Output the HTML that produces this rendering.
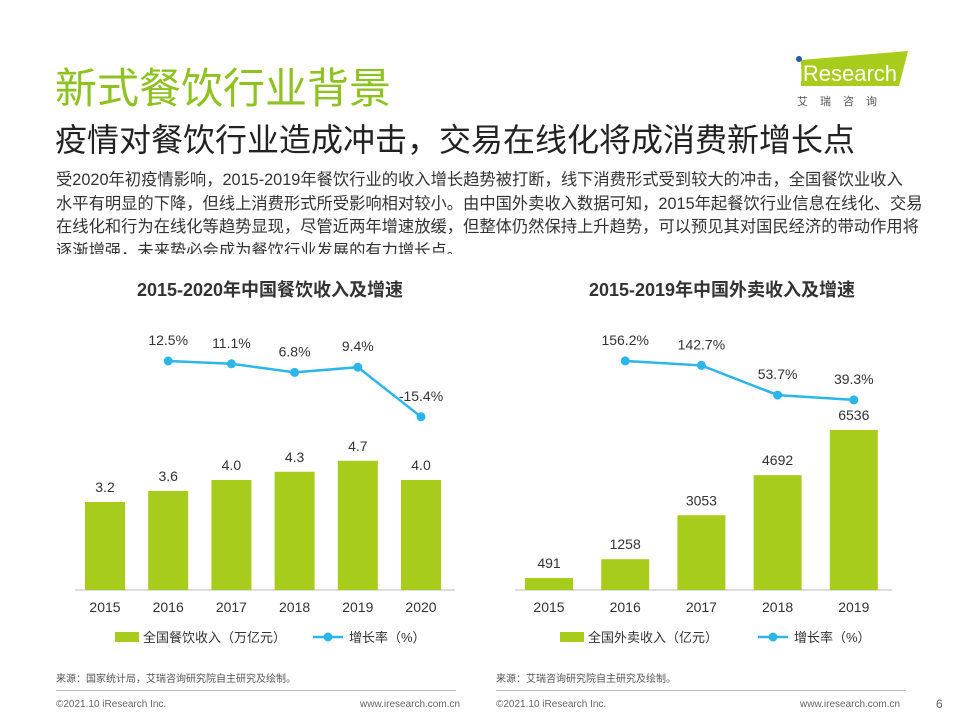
<!DOCTYPE html>
<html><head><meta charset="utf-8"><style>
body{margin:0;width:960px;height:720px;background:#fff;overflow:hidden;position:relative;font-family:"Liberation Sans","Noto Sans CJK SC",sans-serif;color:#333}
.abs{position:absolute}
</style></head><body>
<div class="abs" style="left:55px;top:55px;font-size:42px;color:#8dc21f;white-space:nowrap">新式餐饮行业背景</div>
<div class="abs" style="left:55px;top:115px;font-size:32px;color:#222;white-space:nowrap">疫情对餐饮行业造成冲击，交易在线化将成消费新增长点</div>
<div class="abs" style="left:795px;top:50px;width:115px;height:60px">
 <svg width="115" height="60"><polygon points="6,10 113,1 104,36 6,36" fill="#a8cc1c"/><circle cx="4" cy="9" r="3" fill="#1a5fa8"/>
 <text x="3" y="31" font-size="22" fill="#fff" font-family="Liberation Sans">iResearch</text>
 <text x="2" y="55" font-size="11" fill="#555" letter-spacing="12">艾瑞咨询</text></svg></div>
<div class="abs" style="left:56px;top:169px;width:900px;height:85px;overflow:hidden;font-size:16.3px;line-height:23.5px;color:#333;white-space:nowrap">受2020年初疫情影响，2015-2019年餐饮行业的收入增长趋势被打断，线下消费形式受到较大的冲击，全国餐饮业收入<br>水平有明显的下降，但线上消费形式所受影响相对较小。由中国外卖收入数据可知，2015年起餐饮行业信息在线化、交易<br>在线化和行为在线化等趋势显现，尽管近两年增速放缓，但整体仍然保持上升趋势，可以预见其对国民经济的带动作用将<br>逐渐增强，未来势必会成为餐饮行业发展的有力增长点。</div>
<svg id="chart" class="abs" style="left:0;top:0" width="960" height="720"></svg>
<div class="abs" style="left:56px;top:670px;font-size:10px;color:#555">来源：国家统计局，艾瑞咨询研究院自主研究及绘制。</div>
<div class="abs" style="left:496px;top:670px;font-size:10px;color:#555">来源：艾瑞咨询研究院自主研究及绘制。</div>
<div class="abs" style="left:56px;top:690px;width:400px;height:1px;background:#bbb"></div>
<div class="abs" style="left:496px;top:690px;width:410px;height:1px;background:#bbb"></div>
<div class="abs" style="left:56px;top:699px;font-size:10px;color:#666">©2021.10 iResearch Inc.</div>
<div class="abs" style="left:360px;top:699px;font-size:10px;color:#666">www.iresearch.com.cn</div>
<div class="abs" style="left:496px;top:699px;font-size:10px;color:#666">©2021.10 iResearch Inc.</div>
<div class="abs" style="left:800px;top:699px;font-size:10px;color:#666">www.iresearch.com.cn</div>
<div class="abs" style="left:936px;top:697px;font-size:12px;color:#666">6</div>
<script>
const leftYears=["2015","2016","2017","2018","2019","2020"];
const leftRevenue=[3.2,3.6,4.0,4.3,4.7,4.0];
const leftGrowth=[12.5,11.1,6.8,9.4,-15.4];
const leftGrowthLabels=["12.5%","11.1%","6.8%","9.4%","-15.4%"];
const rightYears=["2015","2016","2017","2018","2019"];
const rightRevenue=[491,1258,3053,4692,6536];
const rightGrowth=[156.2,142.7,53.7,39.3];
const rightGrowthLabels=["156.2%","142.7%","53.7%","39.3%"];
const NS="http://www.w3.org/2000/svg";
const svg=document.getElementById('chart');
function el(t,a,txt){const e=document.createElementNS(NS,t);for(const k in a)e.setAttribute(k,a[k]);if(txt!=null)e.textContent=txt;svg.appendChild(e);return e;}
function draw(cfg){
 const{years,rev,growth,gl,x0,step,bw,base,barScale,lineY,title,tx,axis,legendX,legendLabel,revFmt,id}=cfg;
 const t=el('text',{x:tx,y:296,'font-size':18,'font-weight':'bold','text-anchor':'middle',fill:'#333'},title);
 
 const ax=el('line',{x1:axis[0],x2:axis[1],y1:base,y2:base,stroke:'#bbb'});
 
 const X=i=>x0+i*step;
 years.forEach((y,i)=>{
  const h=rev[i]*barScale;
  const r=el('rect',{x:X(i)-bw/2,y:base-h,width:bw,height:h,fill:'#a8cc1c'});
  
  const l=el('text',{x:X(i),y:base-h-10,'font-size':14,'text-anchor':'middle',fill:'#333'},revFmt(rev[i]));
  
  const xl=el('text',{x:X(i),y:612,'font-size':14,'text-anchor':'middle',fill:'#333'},y);
  
 });
 const pts=growth.map((g,i)=>[X(i+1),lineY(g)]);
 const pl=el('polyline',{points:pts.map(p=>p.join(',')).join(' '),fill:'none',stroke:'#2cb5e8','stroke-width':2.5});
 
 pts.forEach((p,i)=>{
  const c=el('circle',{cx:p[0],cy:p[1],r:4.5,fill:'#2cb5e8'});
  
  const l=el('text',{x:p[0],y:p[1]-16,'font-size':14,'text-anchor':'middle',fill:'#333'},gl[i]);
  
 });
 const lr=el('rect',{x:legendX,y:632,width:24,height:10,fill:'#a8cc1c'});
 
 const lt=el('text',{x:legendX+28,y:642,'font-size':13,fill:'#333'},legendLabel);
 
 const lx=legendX+198;
 const ll=el('line',{x1:lx,x2:lx+30,y1:637,y2:637,stroke:'#2cb5e8','stroke-width':2.5});
 
 el('circle',{cx:lx+15,cy:637,r:4.5,fill:'#2cb5e8'});
 const lt2=el('text',{x:lx+36,y:642,'font-size':13,fill:'#333'},'增长率（%）');
 
}
draw({id:'left-chart',years:leftYears,rev:leftRevenue,growth:leftGrowth,gl:leftGrowthLabels,x0:105,step:63.2,bw:40,base:590,barScale:27.5,
 lineY:v=>386-2*v,title:'2015-2020年中国餐饮收入及增速',tx:270,axis:[75,455],legendX:115,legendLabel:'全国餐饮收入（万亿元）',revFmt:v=>v.toFixed(1)});
draw({id:'right-chart',years:rightYears,rev:rightRevenue,growth:rightGrowth,gl:rightGrowthLabels,x0:549,step:76.2,bw:48,base:590,barScale:160/6536,
 lineY:v=>413-v/3,title:'2015-2019年中国外卖收入及增速',tx:722,axis:[515,892],legendX:560,legendLabel:'全国外卖收入（亿元）',revFmt:v=>String(v)});
</script>
</body></html>
